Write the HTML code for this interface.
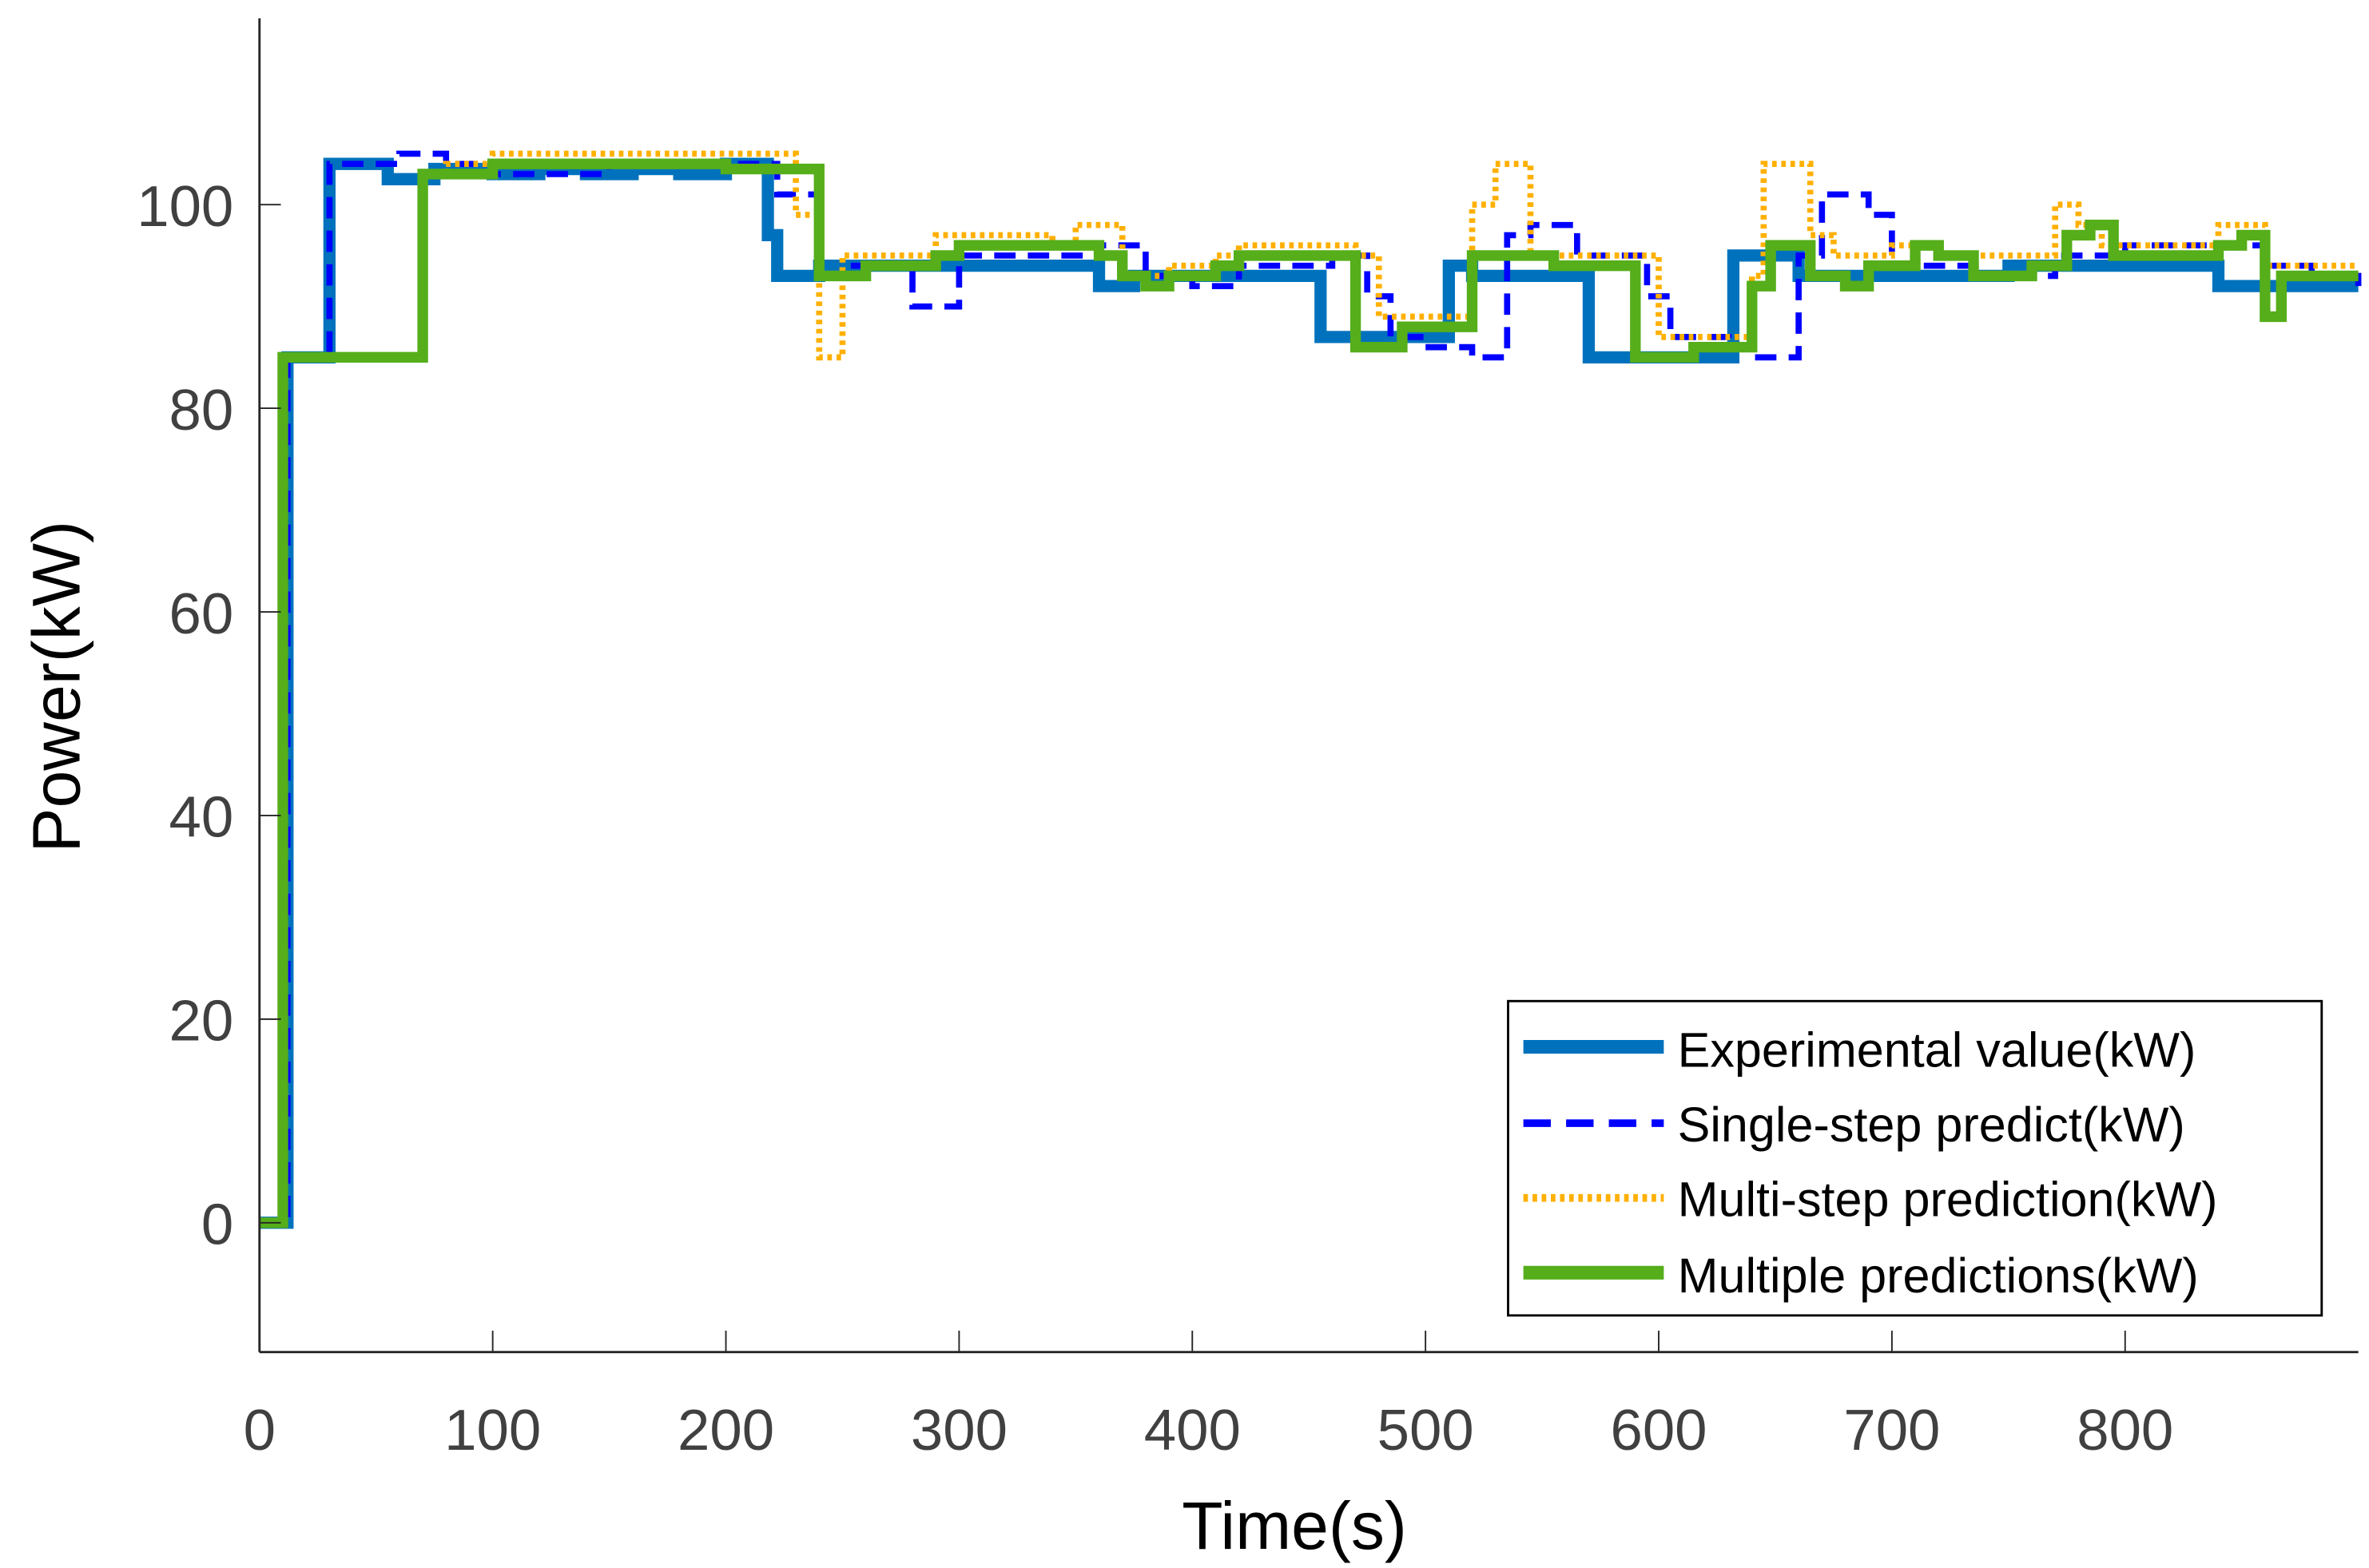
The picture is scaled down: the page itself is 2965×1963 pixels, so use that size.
<!DOCTYPE html>
<html><head><meta charset="utf-8"><style>
html,body{margin:0;padding:0;background:#fff;}
svg{display:block;}
text{font-family:"Liberation Sans",Arial,sans-serif;}
</style></head><body>
<svg id="chart" width="2965" height="1963" viewBox="0 0 1552 1027.5" preserveAspectRatio="none" xmlns="http://www.w3.org/2000/svg">
<g id="series"></g>
<g id="axes"></g>
<text x="848" y="1015" font-size="44" text-anchor="middle" fill="#000">Time(s)</text>
<text transform="translate(52,450) rotate(-90)" font-size="44" text-anchor="middle" fill="#000">Power(kW)</text>
<g>
<rect x="988" y="656" width="533" height="206" fill="#fff" stroke="#000" stroke-width="1.5"/>
<line x1="998" y1="686" x2="1090" y2="686" stroke="#0072BD" stroke-width="9"/>
<text x="1099" y="699" font-size="32">Experimental value(kW)</text>
<line x1="998" y1="736" x2="1090" y2="736" stroke="#0000FF" stroke-width="5" stroke-dasharray="18 10"/>
<text x="1099" y="748" font-size="32">Single-step predict(kW)</text>
<line x1="998" y1="785" x2="1090" y2="785" stroke="#FFB000" stroke-width="5" stroke-dasharray="3 3"/>
<text x="1099" y="797" font-size="32">Multi-step prediction(kW)</text>
<line x1="998" y1="834" x2="1090" y2="834" stroke="#55AE1A" stroke-width="9"/>
<text x="1099" y="847" font-size="32">Multiple predictions(kW)</text>
</g>
</svg>
<script>
const xTicks = [0,100,200,300,400,500,600,700,800];
const yTicks = [0,20,40,60,80,100];
const expT = [0,12,30,55,75,100,120,140,160,180,200,218,222,240,360,375,455,470,510,520,570,590,632,660,700,750,770,840,900];
const expV = [0,85,104,102.5,103.5,103,103.5,103,103.5,103,104,97,93,94,92,93,87,87,94,93,85,85,95,93,93,94,94,92];
const ssT = [0,12,30,60,80,100,150,200,222,240,250,280,300,360,380,400,420,460,475,485,500,520,535,545,565,595,605,630,640,660,670,690,700,740,770,800,840,860,880,900];
const ssV = [0,85,104,105,104,103,104,104,101,93,94,90,95,96,93,92,94,95,91,87,86,85,97,98,95,91,87,86,85,95,101,99,94,93,95,96,96,94,93,92];
const msT = [0,10,70,80,100,200,230,240,250,280,290,340,350,370,390,410,420,470,480,510,520,530,545,580,600,630,640,645,665,675,690,700,720,770,780,790,840,860,900];
const msV = [0,85,103,104,105,105,99,85,95,95,97,96,98,93,94,95,96,95,89,89,100,104,95,95,87,87,93,104,97,95,95,96,95,100,98,96,98,94];
const mpT = [0,10,70,100,130,170,200,240,260,290,300,360,370,380,390,410,420,470,490,520,555,590,615,640,648,665,680,690,710,720,735,760,775,785,795,810,840,850,860,867,900];
const mpV = [0,85,103,104,104,104,103.5,93,94,95,96,95,93,92,93,94,95,86,88,95,94,85,86,92,96,93,92,94,96,95,93,94,97,98,95,95,96,97,89,93];

const NS = "http://www.w3.org/2000/svg";
const X0 = 170, X1 = 1545, Y0 = 886, Y1 = 12;
const xMin = 0, xMax = 900, yMin = -12.7, yMax = 118.3;
function sx(t){ return X0 + (t - xMin) / (xMax - xMin) * (X1 - X0); }
function sy(v){ return Y0 - (v - yMin) / (yMax - yMin) * (Y0 - Y1); }
function stepPath(T, V){
  let d = "M" + sx(T[0]) + " " + sy(V[0]);
  for (let i = 0; i < V.length; i++){
    if (i > 0) d += " V" + sy(V[i]);
    d += " H" + sx(T[i+1]);
  }
  return d;
}
const series = document.getElementById("series");
function addSeries(T, V, color, w, dash, name){
  const p = document.createElementNS(NS, "path");
  p.setAttribute("d", stepPath(T, V));
  p.setAttribute("fill", "none");
  p.setAttribute("stroke", color);
  p.setAttribute("stroke-width", w);
  if (dash) p.setAttribute("stroke-dasharray", dash);
  
  
  series.appendChild(p);
}
addSeries(expT, expV, "#0072BD", 8, null, "experimental-line");
addSeries(ssT, ssV, "#0000FF", 4, "14 8", "single-step-line");
addSeries(msT, msV, "#FFB000", 4, "3 3", "multi-step-line");
addSeries(mpT, mpV, "#55AE1A", 7, null, "multiple-predictions-line");

const axes = document.getElementById("axes");
function line(x1,y1,x2,y2,w,name){
  const l = document.createElementNS(NS, "line");
  l.setAttribute("x1",x1); l.setAttribute("y1",y1); l.setAttribute("x2",x2); l.setAttribute("y2",y2);
  l.setAttribute("stroke","#262626"); l.setAttribute("stroke-width",w);
  
  
  axes.appendChild(l);
}
function text(x,y,s,anchor,name){
  const t = document.createElementNS(NS, "text");
  t.setAttribute("x",x); t.setAttribute("y",y);
  t.setAttribute("font-size","38"); t.setAttribute("fill","#404040");
  t.setAttribute("text-anchor",anchor);
  t.textContent = s;
  
  
  axes.appendChild(t);
}
line(X0, Y1, X0, Y0, 1.5, "y-axis-line");
line(X0, Y0, X1, Y0, 1.5, "x-axis-line");
xTicks.forEach(t => {
  line(sx(t), Y0, sx(t), Y0 - 14, 1, "x-tick");
  text(sx(t), 950, String(t), "middle", "x-tick-label");
});
yTicks.forEach(v => {
  line(X0, sy(v), X0 + 14, sy(v), 1, "y-tick");
  text(153, sy(v) + 14, String(v), "end", "y-tick-label");
});
</script>
</body></html>
